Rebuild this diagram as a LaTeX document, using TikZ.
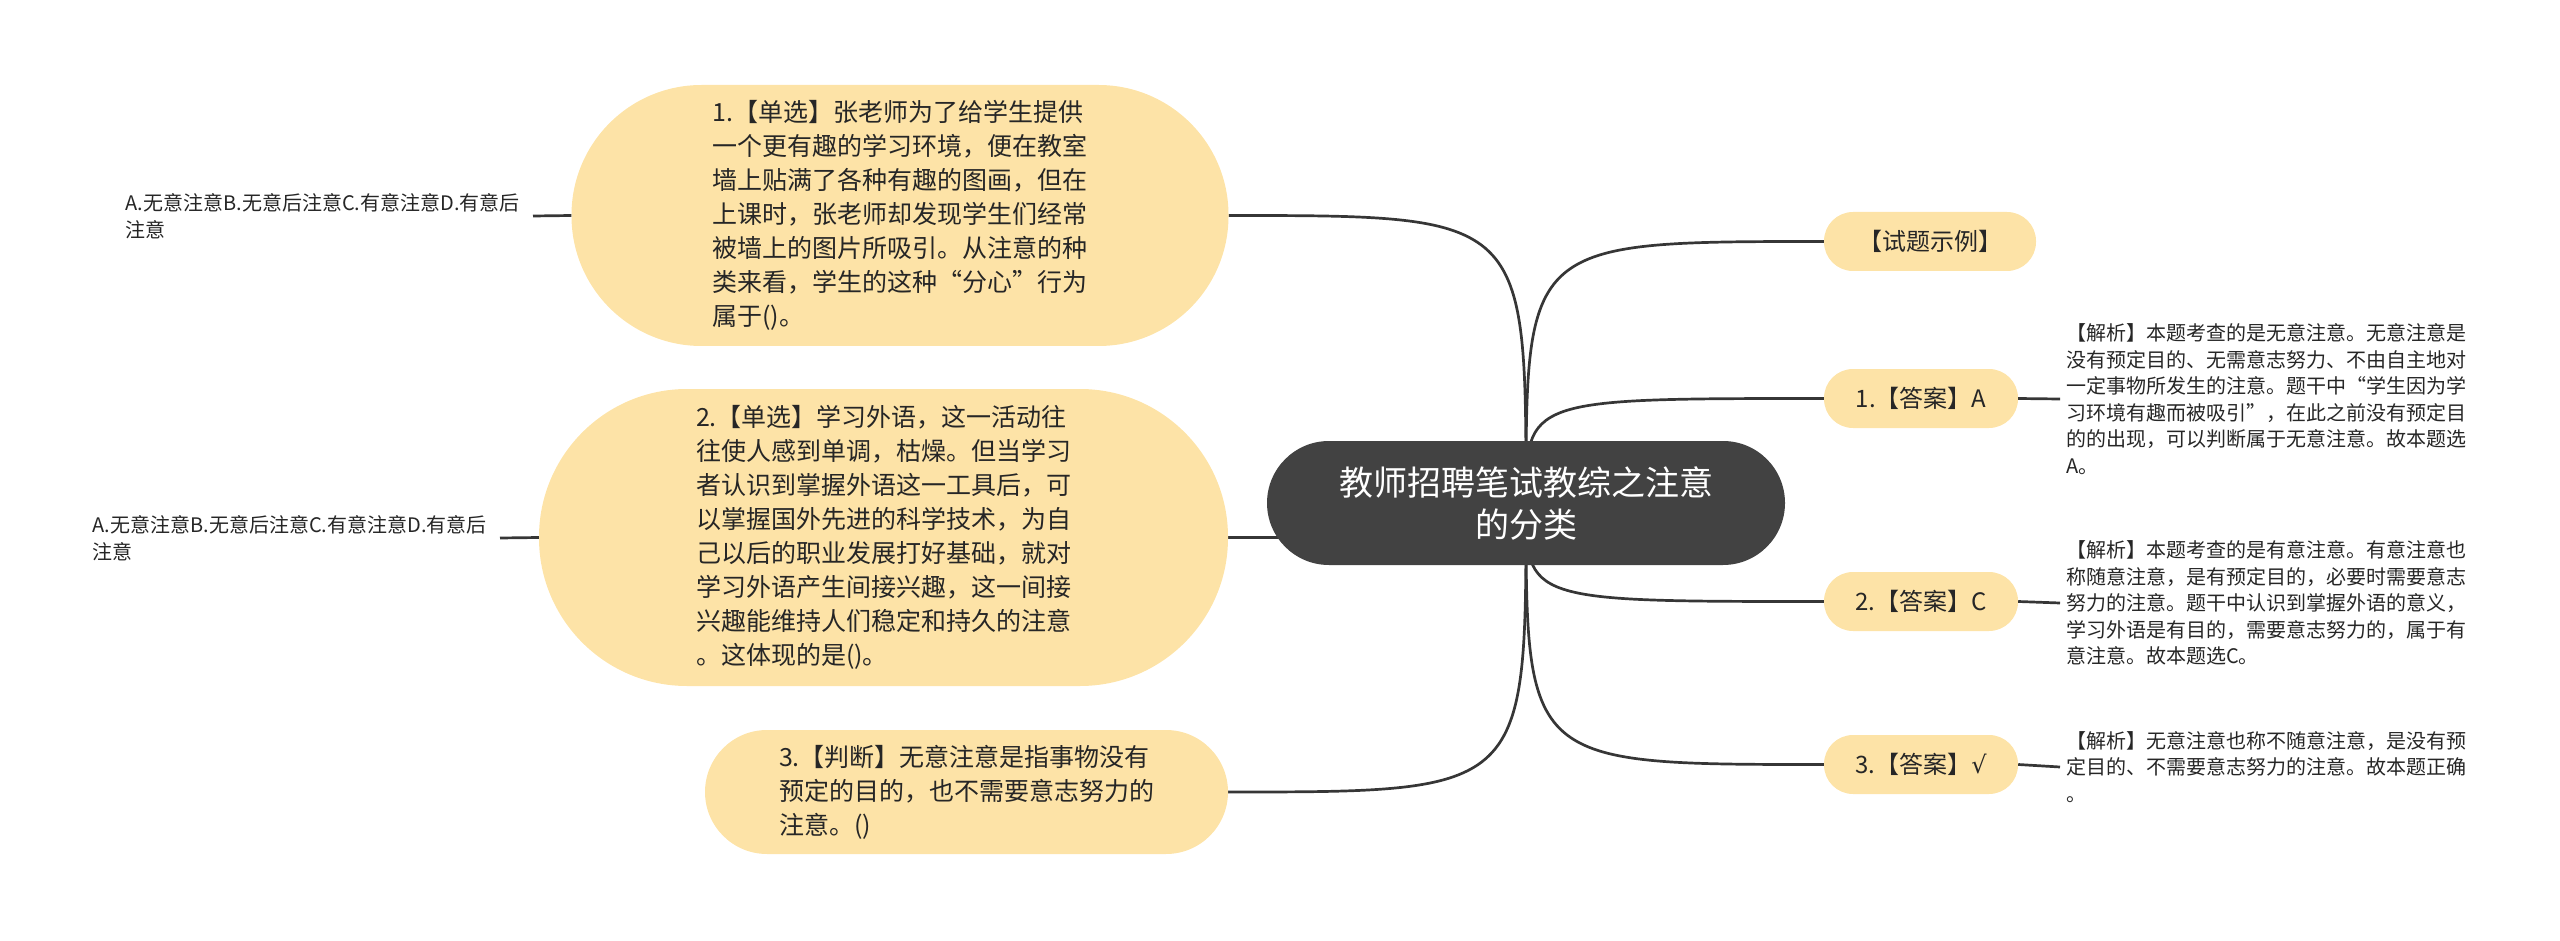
\documentclass[tikz,border=0pt]{standalone}
\usepackage{fontspec}
\setmainfont{Noto Sans CJK SC}
\newfontfamily\symfont{DejaVu Sans}
\usepackage{tikz}
\usetikzlibrary{backgrounds}
\definecolor{topicfill}{HTML}{FDE3A7}
\definecolor{rootfill}{HTML}{424242}
\definecolor{linegray}{HTML}{363636}
\definecolor{textgray}{HTML}{262626}

\begin{document}
\begin{tikzpicture}[x=1pt,y=-1pt,inner sep=0pt]
		\tikzstyle{topic}=[fill=topicfill,text=textgray,align=left,font=\fontsize{25pt}{34pt}\selectfont]
		\tikzstyle{answer}=[fill=topicfill,text=textgray,align=center,minimum height=59pt,rounded corners=29pt,font=\fontsize{24pt}{30pt}\selectfont]
		\tikzstyle{leaf}=[text=textgray,align=left,font=\fontsize{20pt}{26.5pt}\selectfont]
		\tikzstyle{link}=[draw=linegray,line width=2.7pt]
		
		\useasboundingbox (0,0) rectangle (2560,941);
		
		\node[fill=rootfill,text=white,align=center,minimum width=518pt,minimum height=124pt,rounded corners=62pt,
		font=\fontsize{34pt}{42pt}\selectfont] (root) at (1526,503) {教师招聘笔试教综之注意\\的分类};
		
		\node[topic,minimum width=657pt,minimum height=261pt,rounded corners=130pt] (q1) at (900,215.5)
		{1.【单选】张老师为了给学生提供\\一个更有趣的学习环境，便在教室\\墙上贴满了各种有趣的图画，但在\\上课时，张老师却发现学生们经常\\被墙上的图片所吸引。从注意的种\\类来看，学生的这种“分心”行为\\属于()。};
		\node[topic,minimum width=689pt,minimum height=297pt,rounded corners=148pt] (q2) at (883.5,537.5)
		{2.【单选】学习外语，这一活动往\\往使人感到单调，枯燥。但当学习\\者认识到掌握外语这一工具后，可\\以掌握国外先进的科学技术，为自\\己以后的职业发展打好基础，就对\\学习外语产生间接兴趣，这一间接\\兴趣能维持人们稳定和持久的注意\\。这体现的是()。};
		\node[topic,minimum width=523pt,minimum height=124pt,rounded corners=62pt] (q3) at (966.5,792)
		{3.【判断】无意注意是指事物没有\\预定的目的，也不需要意志努力的\\注意。()};
		
		\node[leaf,inner xsep=13pt,anchor=east] (opt1) at (533,216) {A.无意注意B.无意后注意C.有意注意D.有意后\\注意};
		\node[leaf,inner xsep=13pt,anchor=east] (opt2) at (500,538) {A.无意注意B.无意后注意C.有意注意D.有意后\\注意};
		
		\node[answer,minimum width=212pt] (demo) at (1930,241.5) {【试题示例】};
		\node[answer,minimum width=194pt] (ans1) at (1921,398.5) {1.【答案】A};
		\node[answer,minimum width=194pt] (ans2) at (1921,601.5) {2.【答案】C};
		\node[answer,minimum width=194pt] (ans3) at (1921,764.5) {3.【答案】{\symfont √}};
		
		\node[leaf,inner xsep=6pt,anchor=west] (why1) at (2060,399)
		{【解析】本题考查的是无意注意。无意注意是\\没有预定目的、无需意志努力、不由自主地对\\一定事物所发生的注意。题干中“学生因为学\\习环境有趣而被吸引”，在此之前没有预定目\\的的出现，可以判断属于无意注意。故本题选\\A。};
		\node[leaf,inner xsep=6pt,anchor=west] (why2) at (2060,603)
		{【解析】本题考查的是有意注意。有意注意也\\称随意注意，是有预定目的，必要时需要意志\\努力的注意。题干中认识到掌握外语的意义，\\学习外语是有目的，需要意志努力的，属于有\\意注意。故本题选C。};
		\node[leaf,inner xsep=6pt,anchor=west] (why3) at (2060,767)
		{【解析】无意注意也称不随意注意，是没有预\\定目的、不需要意志努力的注意。故本题正确\\。};
		
		% curved branches from the centre
		\begin{scope}[on background layer]
		\draw[link] (root.center) .. controls (root.center |- q1.east) .. (q1.east);
		\draw[link] (root.center) .. controls (root.center |- q2.east) .. (q2.east);
		\draw[link] (root.center) .. controls (root.center |- q3.east) .. (q3.east);
		\draw[link] (root.center) .. controls (root.center |- demo.west) .. (demo.west);
		\draw[link] (root.center) .. controls (root.center |- ans1.west) .. (ans1.west);
		\draw[link] (root.center) .. controls (root.center |- ans2.west) .. (ans2.west);
		\draw[link] (root.center) .. controls (root.center |- ans3.west) .. (ans3.west);
		\end{scope}
		
		\path[link] (q1.west) edge (opt1.east)
		(q2.west) edge (opt2.east)
		(ans1.east) edge (why1.west)
		(ans2.east) edge (why2.west)
		(ans3.east) edge (why3.west);
\end{tikzpicture}
\end{document}
